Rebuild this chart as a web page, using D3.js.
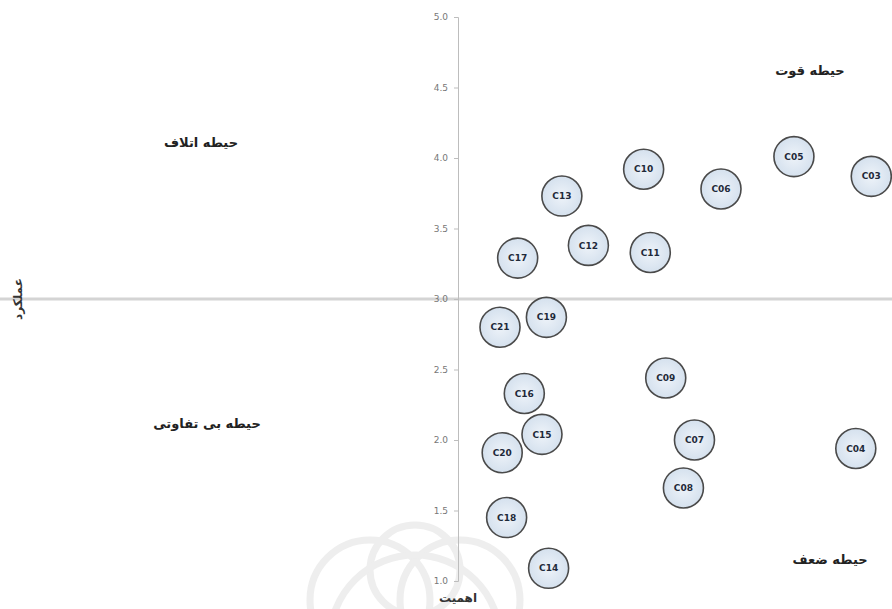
<!DOCTYPE html>
<html>
<head>
<meta charset="utf-8">
<script src="https://cdn.jsdelivr.net/npm/d3@7"></script>
<style>
  body { margin: 0; background: #fff; }
  svg { display: block; }
  text { font-family: "DejaVu Sans", "Noto Sans", sans-serif; }
</style>
</head>
<body>
<div id="chart"></div>
<script>
// criteria labels, importance (x) and performance (y)
var labels = ["C03","C04","C05","C06","C07","C08","C09","C10","C11","C12","C13","C14","C15","C16","C17","C18","C19","C20","C21"];
var importance = [4.87, 4.80, 4.52, 4.19, 4.07, 4.02, 3.94, 3.84, 3.87, 3.59, 3.47, 3.41, 3.38, 3.30, 3.27, 3.22, 3.40, 3.20, 3.19];
var performance = [3.87, 1.94, 4.01, 3.78, 2.00, 1.66, 2.44, 3.92, 3.33, 3.38, 3.73, 1.09, 2.04, 2.33, 3.29, 1.45, 2.87, 1.91, 2.80];
var yTicks = [1.0, 1.5, 2.0, 2.5, 3.0, 3.5, 4.0, 4.5, 5.0];
var zones = ["حیطه قوت", "حیطه اتلاف", "حیطه بی تفاوتی", "حیطه ضعف"];

var width = 892, height = 609;

var svg = d3.select("#chart")
  .append("svg")
    .attr("width", width)
    .attr("height", height);

var x = d3.scaleLinear().domain([1, 5]).range([16, 900]);
var y = d3.scaleLinear().domain([1, 5]).range([581, 17]);

// faint watermark
var wm = svg.append("g")
  .attr("fill", "none")
  .attr("stroke", "#e3e3e3")
  .attr("stroke-width", 7)
  .attr("opacity", 0.6);
[[370, 600, 60], [460, 600, 60], [415, 570, 45], [415, 640, 85]].forEach(function(c) {
  wm.append("circle").attr("cx", c[0]).attr("cy", c[1]).attr("r", c[2]);
});

// horizontal quadrant line at performance = 3
svg.append("line")
  .attr("x1", 0).attr("x2", width)
  .attr("y1", y(3)).attr("y2", y(3))
  .attr("stroke", "#d4d4d4")
  .attr("stroke-width", 3);

// y axis at importance = 3
var yAxis = svg.append("g")
  .attr("transform", "translate(" + x(3) + ",0)")
  .call(d3.axisLeft(y).tickValues(yTicks).tickFormat(d3.format(".1f")).tickSize(4).tickPadding(6));
yAxis.select(".domain").attr("stroke", "#bdbdbd");
yAxis.selectAll(".tick line").attr("stroke", "#bdbdbd");
yAxis.selectAll(".tick text").attr("fill", "#777").attr("font-size", 9);

// bubbles
var pts = labels.map(function(l, i) { return { label: l, x: importance[i], y: performance[i] }; });

var defs = svg.append("defs");
var grad = defs.append("radialGradient").attr("id", "bub");
grad.append("stop").attr("offset", "0%").attr("stop-color", "#eef3f9");
grad.append("stop").attr("offset", "100%").attr("stop-color", "#d5e1ee");

var g = svg.selectAll(".pt")
  .data(pts)
  .enter().append("g")
  .attr("transform", function(d) { return "translate(" + x(d.x) + "," + y(d.y) + ")"; });

g.append("circle")
  .attr("r", 20)
  .attr("fill", "url(#bub)")
  .attr("stroke", "#4a4a4a")
  .attr("stroke-width", 1.6);

g.append("text")
  .attr("text-anchor", "middle")
  .attr("dy", "0.35em")
  .attr("font-size", 9)
  .attr("font-weight", "bold")
  .attr("fill", "#1f2a3a")
  .text(function(d) { return d.label; });

// zone labels
var zonePos = [[810, 70], [201, 142], [207, 423], [830, 559]];
svg.selectAll(".zone")
  .data(zones)
  .enter().append("text")
  .attr("x", function(d, i) { return zonePos[i][0]; })
  .attr("y", function(d, i) { return zonePos[i][1]; })
  .attr("text-anchor", "middle")
  .attr("dy", "0.35em")
  .attr("font-size", 13)
  .attr("font-weight", "bold")
  .attr("fill", "#222")
  .text(function(d) { return d; });

// axis titles
svg.append("text")
  .attr("x", x(3)).attr("y", 602)
  .attr("text-anchor", "middle")
  .attr("font-size", 12)
  .attr("font-weight", "bold")
  .attr("fill", "#333")
  .text("اهمیت");

svg.append("text")
  .attr("transform", "translate(22," + y(3) + ") rotate(-90)")
  .attr("text-anchor", "middle")
  .attr("font-size", 12)
  .attr("font-weight", "bold")
  .attr("fill", "#333")
  .text("عملکرد");
</script>
</body>
</html>
